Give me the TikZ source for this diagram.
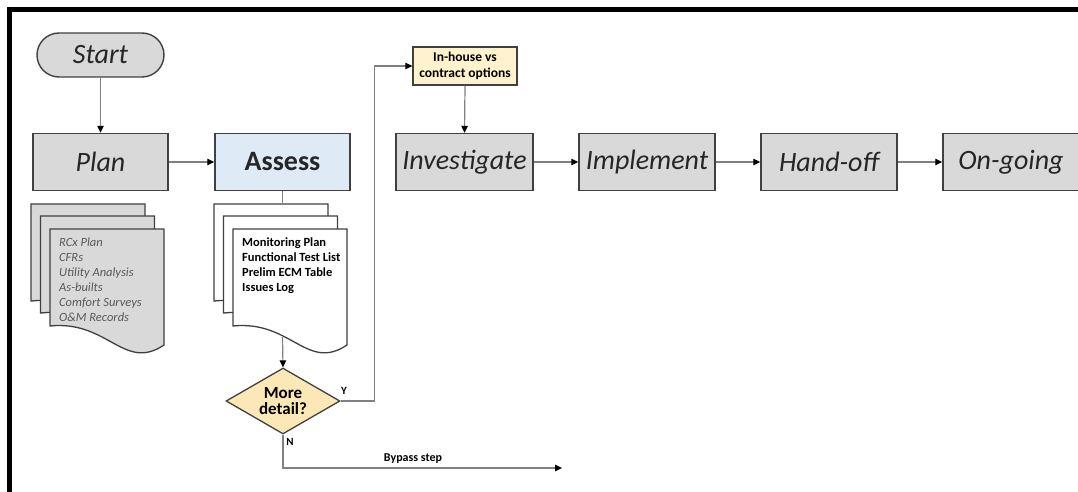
\documentclass[tikz,border=0pt]{standalone}
\usepackage{fontspec}
\setmainfont{Carlito}
\usetikzlibrary{arrows.meta,shapes.geometric}
\definecolor{stagegray}{HTML}{D9D9D9}
\definecolor{bordergray}{HTML}{404040}
\definecolor{assessblue}{HTML}{DEEBF7}
\definecolor{diafill}{HTML}{FCE7B6}
\definecolor{inhousefill}{HTML}{FFF2CC}
\definecolor{linegray}{HTML}{808080}
\definecolor{doctext}{HTML}{595959}
\newcommand\mydoc[3]{\begin{scope}[shift={(#1,#2)}]\filldraw[docline,fill=#3] (0,0) -- (114,0) -- (114,116) .. controls (74,143) and (58,91) .. (0,97) -- cycle;\end{scope}}
\begin{document}
\begin{tikzpicture}[x=1pt,y=-1pt,
  stagebox/.style={draw=bordergray,line width=1.4pt,fill=stagegray,minimum height=57pt,inner sep=2pt,
    font=\fontsize{28}{30}\selectfont\itshape,text=black!85},
  docline/.style={draw=bordergray,line width=1.3pt},
  conn/.style={draw=linegray,line width=1.2pt,-{Triangle[length=7pt,width=6.5pt,color=black]}},
  plainconn/.style={draw=linegray,line width=1.2pt},
  smalllabel/.style={font=\fontsize{11}{12}\selectfont\bfseries,inner sep=0pt}]
\useasboundingbox (0,0) rectangle (1078,492);
% frame
\draw[line width=4.3pt,line join=miter] (9.5,495) -- (9.5,9.5) -- (1080,9.5);
% start
\node[draw=bordergray,line width=1.4pt,fill=stagegray,rounded corners=22pt,minimum width=127pt,minimum height=44pt,
  font=\fontsize{28}{30}\selectfont\itshape,text=black!85] (start) at (100.5,55) {Start};
% stages
\node[stagebox,minimum width=135pt] (plan) at (100.5,162) {Plan};
\node[stagebox,minimum width=135pt,fill=assessblue,font=\fontsize{28}{30}\selectfont\bfseries] (assess) at (282.5,162) {Assess};
\node[stagebox,minimum width=137pt] (inv) at (464.5,162) {Investigate};
\node[stagebox,minimum width=136pt] (impl) at (647,162) {Implement};
\node[stagebox,minimum width=136pt] (hand) at (829,162) {Hand-off};
\node[stagebox,minimum width=136pt] (ongo) at (1011,162) {On-going};
% in-house box
\node[draw=bordergray,line width=1.3pt,fill=inhousefill,minimum width=104pt,minimum height=38pt,inner sep=1pt,
  align=center,font=\fontsize{13.5}{16}\selectfont\bfseries] (inh) at (465,66) {In-house vs\\contract options};
% documents for Plan
\mydoc{31}{204}{stagegray}
\mydoc{40.5}{216}{stagegray}
\mydoc{50}{229}{stagegray}
\node[anchor=north west,inner sep=0pt,align=left,text=doctext,font=\fontsize{12.5}{15}\selectfont\itshape] (plandocs) at (59,237.5)
  {RCx Plan\\CFRs\\Utility Analysis\\As-builts\\Comfort Surveys\\O\&M Records};
% documents for Assess
\mydoc{214}{204}{white}
\mydoc{223.5}{216}{white}
\mydoc{233}{229}{white}
\node[anchor=north west,inner sep=0pt,align=left,font=\fontsize{12.5}{15}\selectfont\bfseries] (assessdocs) at (242,237.5)
  {Monitoring Plan\\Functional Test List\\Prelim ECM Table\\Issues Log};
\coordinate (adoctop) at (282.5,204);
\coordinate (adocbot) at (282.5,337);
% decision
\node[diamond,draw=bordergray,line width=1.3pt,fill=diafill,minimum width=114pt,minimum height=66pt,aspect=1.73,inner sep=0pt,
  align=center,font=\fontsize{17}{16}\selectfont\bfseries] (dec) at (283,401) {More\\detail?};
\coordinate (bypass) at (562,468);
% connectors
\draw[conn] (start.south) -- (plan.north);
\draw[conn] (plan.east) -- (assess.west);
\draw[plainconn] (assess.south) -- (adoctop);
\draw[conn] (adocbot) -- (dec.north);
\draw[conn] (dec.east) -- ++(34,0) |- (inh.west);
\draw[conn] (inh.south) -- (inv.north);
\draw[conn] (inv.east) -- (impl.west);
\draw[conn] (impl.east) -- (hand.west);
\draw[conn] (hand.east) -- (ongo.west);
\draw[conn] (dec.south) |- (bypass);
% labels
\node[smalllabel] (ylab) at (344,391) {Y};
\node[smalllabel] (nlab) at (290,442) {N};
\node[smalllabel,font=\fontsize{12}{13}\selectfont\bfseries] (bylab) at (413,459) {Bypass step};
\end{tikzpicture}
\end{document}
